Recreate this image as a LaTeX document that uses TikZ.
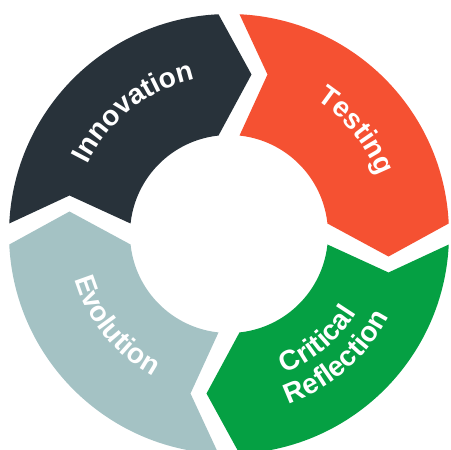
\documentclass[tikz,border=0pt]{standalone}
\usepackage{fontspec}
\setmainfont{Liberation Sans}
\usetikzlibrary{decorations.text}

\definecolor{innovcol}{HTML}{28323A}
\definecolor{testcol}{HTML}{F55132}
\definecolor{reflcol}{HTML}{05A043}
\definecolor{evolcol}{HTML}{A4C2C4}

\newcommand{\segfont}{\fontsize{16}{19}\selectfont\bfseries}

\begin{document}
\begin{tikzpicture}[
		scale=0.02,
		seglabel/.style={decorate, decoration={text along path, text align=center, text color=white}},
	]
	\clip (-229,-216) rectangle (221,234);

	% the four arrow segments of the ring (outer 220, inner 99)
	\fill[innovcol] (177.26:220) arc[start angle=177.26, end angle=92.74, radius=220]
		-- (81.97:161.1) -- (96.09:99) arc[start angle=96.09, end angle=173.91, radius=99]
		-- (166.43:164.1) -- cycle;
	\fill[testcol] (87.26:220) arc[start angle=87.26, end angle=2.74, radius=220]
		-- (-8.03:161.1) -- (6.09:99) arc[start angle=6.09, end angle=83.91, radius=99]
		-- (76.43:164.1) -- cycle;
	\fill[reflcol] (-2.74:220) arc[start angle=-2.74, end angle=-87.26, radius=220]
		-- (-98.03:161.1) -- (-83.91:99) arc[start angle=-83.91, end angle=-6.09, radius=99]
		-- (-13.57:164.1) -- cycle;
	\fill[evolcol] (-92.74:220) arc[start angle=-92.74, end angle=-177.26, radius=220]
		-- (-188.03:161.1) -- (-173.91:99) arc[start angle=-173.91, end angle=-96.09, radius=99]
		-- (-103.57:164.1) -- cycle;

	% labels set along the ring
	\path[seglabel, decoration={text={|\segfont|Innovation}}]
		(163:158) arc[start angle=163, end angle=93, radius=158];
	\path[seglabel, decoration={text={|\segfont|Testing}}]
		(69:160) arc[start angle=69, end angle=9, radius=160];
	\path[seglabel, decoration={text={|\segfont|Critical}}]
		(280:150) arc[start angle=280, end angle=340, radius=150];
	\path[seglabel, decoration={text={|\segfont|Reflection}}]
		(276:180) arc[start angle=276, end angle=346, radius=180];
	\path[seglabel, decoration={text={|\segfont|Evolution}}]
		(189:161) arc[start angle=189, end angle=249, radius=161];
\end{tikzpicture}
\end{document}
